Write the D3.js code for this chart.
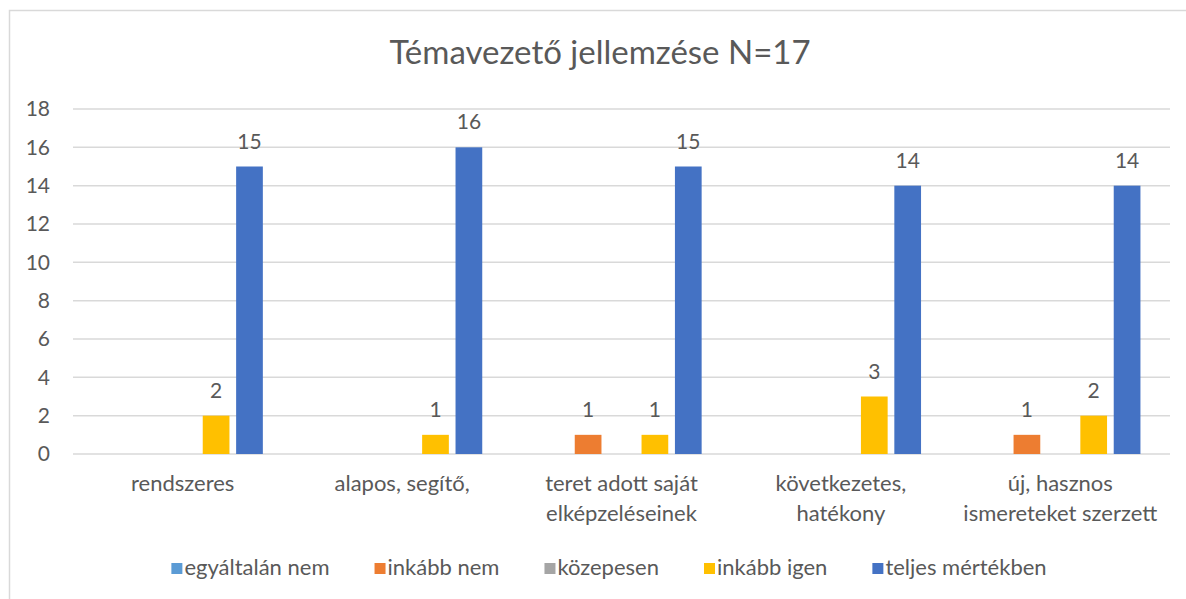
<!DOCTYPE html>
<html>
<head>
<meta charset="utf-8">
<script src="https://cdn.jsdelivr.net/npm/d3@7"></script>
<style>
  body { margin: 0; background: #fff; }
  text { font-family: Lato, "Open Sans", sans-serif; fill: #595959; }
</style>
</head>
<body>
<div id="chart"></div>
<script>
const categories = [
  "rendszeres",
  "alapos, segítő,",
  "teret adott saját\nelképzeléseinek",
  "következetes,\nhatékony",
  "új, hasznos\nismereteket szerzett"
];
const seriesNames = ["egyáltalán nem", "inkább nem", "közepesen", "inkább igen", "teljes mértékben"];
const egyaltalanNem = [0, 0, 0, 0, 0];
const inkabbNem = [0, 0, 1, 0, 1];
const kozepesen = [0, 0, 0, 0, 0];
const inkabbIgen = [2, 1, 1, 3, 2];
const teljesMertekben = [15, 16, 15, 14, 14];
const yTicks = [0, 2, 4, 6, 8, 10, 12, 14, 16, 18];
const colors = ["#5B9BD5", "#ED7D31", "#A5A5A5", "#FFC000", "#4472C4"];

const seriesValues = [egyaltalanNem, inkabbNem, kozepesen, inkabbIgen, teljesMertekben];

const width = 1186;
const height = 599;
const svg = d3.select("#chart").append("svg")
  .attr("width", width)
  .attr("height", height);

// chart border
svg.append("rect")
  .attr("x", 9.5).attr("y", 10.5)
  .attr("width", 1200).attr("height", 620)
  .attr("fill", "none")
  .attr("stroke", "#d9d9d9")
  .attr("stroke-width", 1.5);

svg.append("text")
  .attr("x", 600).attr("y", 64)
  .attr("text-anchor", "middle")
  .style("font-size", "33px")
  .text("Témavezető jellemzése N=17");

const x0 = d3.scaleBand()
  .domain(categories)
  .range([73, 1170])
  .paddingInner(0.239)
  .paddingOuter(0.1195);

const x1 = d3.scaleBand()
  .domain(seriesNames)
  .range([0, x0.bandwidth()])
  .paddingInner(0.2)
  .paddingOuter(0.1);

const y = d3.scaleLinear().domain([0, 18]).range([454, 109]);

// gridlines
svg.append("g")
  .selectAll("line")
  .data(yTicks)
  .join("line")
  .attr("x1", 73).attr("x2", 1170)
  .attr("y1", d => y(d)).attr("y2", d => y(d))
  .attr("stroke", "#d9d9d9")
  .attr("stroke-width", 1.5);

const yAxis = svg.append("g")
  .attr("transform", "translate(73,0)")
  .call(d3.axisLeft(y).tickValues(yTicks).tickSize(0).tickPadding(23));
yAxis.select(".domain").remove();
yAxis.selectAll("text")
  .style("font-size", "21px")
  .attr("fill", "#595959");

// bars
const groups = svg.append("g")
  .selectAll("g")
  .data(categories)
  .join("g")
  .attr("transform", d => `translate(${x0(d)},0)`);

const bars = groups.selectAll("g")
  .data((c, i) => seriesNames.map((s, j) => ({ s, j, v: seriesValues[j][i] })))
  .join("g");

bars.append("rect")
  .attr("x", d => x1(d.s))
  .attr("y", d => y(d.v))
  .attr("width", x1.bandwidth())
  .attr("height", d => y(0) - y(d.v))
  .attr("fill", d => colors[d.j]);

bars.filter(d => d.v > 0)
  .append("text")
  .attr("x", d => x1(d.s) + x1.bandwidth() / 2)
  .attr("y", d => y(d.v) - 18)
  .attr("text-anchor", "middle")
  .style("font-size", "21px")
  .attr("fill", "#404040")
  .text(d => d.v);

// category labels
svg.append("g")
  .selectAll("text")
  .data(categories)
  .join("text")
  .attr("x", d => x0(d) + x0.bandwidth() / 2)
  .attr("y", 491)
  .attr("text-anchor", "middle")
  .style("font-size", "22px")
  .each(function (d) {
    d3.select(this).selectAll("tspan")
      .data(d.split("\n"))
      .join("tspan")
      .attr("x", x0(d) + x0.bandwidth() / 2)
      .attr("dy", (t, i) => i === 0 ? 0 : 30)
      .text(t => t);
  });

// legend
const legend = svg.append("g").attr("transform", "translate(0,575)");
const items = legend.selectAll("g")
  .data(seriesNames)
  .join("g");
items.append("rect")
  .attr("width", 11).attr("height", 11)
  .attr("y", -12)
  .attr("fill", (d, i) => colors[i]);
items.append("text")
  .attr("x", 13)
  .attr("y", 0)
  .style("font-size", "22px")
  .text(d => d);
let widths = [];
items.each(function () { widths.push(this.getBBox().width); });
const gap = 45;
const total = d3.sum(widths) + gap * (widths.length - 1);
let cx = 609 - total / 2;
items.attr("transform", (d, i) => {
  const t = `translate(${cx},0)`;
  cx += widths[i] + gap;
  return t;
});
</script>
</body>
</html>
